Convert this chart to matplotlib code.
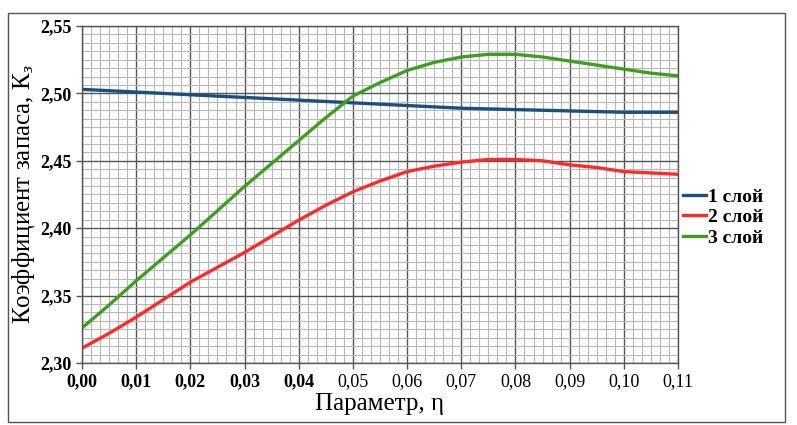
import matplotlib
matplotlib.use("Agg")
import matplotlib.pyplot as plt
from matplotlib.ticker import MultipleLocator, FixedLocator, FixedFormatter
from matplotlib.patches import Rectangle

plt.rcParams['font.family'] = ['Liberation Serif', 'DejaVu Serif']
plt.rcParams['mathtext.fontset'] = 'custom'
plt.rcParams['mathtext.rm'] = 'Liberation Serif'
plt.rcParams['mathtext.it'] = 'Liberation Serif:italic'

# ---- data ----
eta_blue = [0.00, 0.01, 0.02, 0.03, 0.04, 0.05, 0.06, 0.07, 0.08, 0.09, 0.10, 0.11]
k_blue = [2.503, 2.501, 2.499, 2.497, 2.495, 2.493, 2.491, 2.489, 2.488, 2.487, 2.486, 2.486]

eta_fine = [0.000, 0.005, 0.010, 0.015, 0.020, 0.025, 0.030, 0.035, 0.040, 0.045,
            0.050, 0.055, 0.060, 0.065, 0.070, 0.075, 0.080, 0.085, 0.090, 0.095,
            0.100, 0.105, 0.110]
k_red = [2.311, 2.322, 2.334, 2.347, 2.360, 2.371, 2.382, 2.394, 2.406, 2.417,
         2.427, 2.435, 2.442, 2.446, 2.449, 2.451, 2.451, 2.450, 2.447, 2.445,
         2.442, 2.441, 2.440]
k_green = [2.326, 2.343, 2.361, 2.378, 2.395, 2.413, 2.431, 2.448, 2.465, 2.482,
           2.498, 2.508, 2.517, 2.523, 2.527, 2.529, 2.529, 2.527, 2.524, 2.521,
           2.518, 2.515, 2.513]

series_labels = ["1 слой", "2 слой", "3 слой"]
x_ticks = [0.00, 0.01, 0.02, 0.03, 0.04, 0.05, 0.06, 0.07, 0.08, 0.09, 0.10, 0.11]
x_tick_labels = ["0,00", "0,01", "0,02", "0,03", "0,04", "0,05", "0,06", "0,07",
                 "0,08", "0,09", "0,10", "0,11"]
y_ticks = [2.30, 2.35, 2.40, 2.45, 2.50, 2.55]
y_tick_labels = ["2,30", "2,35", "2,40", "2,45", "2,50", "2,55"]

fig = plt.figure(figsize=(7.97, 4.25), dpi=100)
fig.patch.set_facecolor('white')

# outer frame
fig.patches.append(Rectangle((8/797, 1 - 422/425), (785 - 8)/797, (422 - 13)/425,
                             transform=fig.transFigure, fill=False,
                             edgecolor='#555555', linewidth=1.0, zorder=0))

ax = fig.add_axes([82/797, 1 - 363/425, (678 - 82)/797, (363 - 26)/425])
ax.set_xlim(0, 0.11)
ax.set_ylim(2.30, 2.55)

ax.xaxis.set_major_locator(FixedLocator(x_ticks))
ax.xaxis.set_major_formatter(FixedFormatter(x_tick_labels))
ax.yaxis.set_major_locator(FixedLocator(y_ticks))
ax.yaxis.set_major_formatter(FixedFormatter(y_tick_labels))
ax.xaxis.set_minor_locator(MultipleLocator(0.01 / 6))
ax.yaxis.set_minor_locator(MultipleLocator(0.05 / 8))

ax.grid(which='major', color='#555555', linewidth=1.0)
ax.grid(which='minor', color='#b8b8b8', linewidth=0.8)
ax.set_axisbelow(True)
ax.tick_params(which='minor', length=0)
ax.tick_params(which='major', length=4, width=1.0, color='#555555', labelsize=13)
for lbl in ax.get_xticklabels()[:5]:
    lbl.set_fontweight('bold')
for lbl in ax.get_yticklabels():
    lbl.set_fontweight('bold')
for s in ax.spines.values():
    s.set_color('#555555')
    s.set_linewidth(1.0)

l1, = ax.plot(eta_blue, k_blue, color='#1d4f7c', linewidth=2.4, label=series_labels[0])
l2, = ax.plot(eta_fine, k_red, color='#ff2b2b', linewidth=2.4, label=series_labels[1])
l3, = ax.plot(eta_fine, k_green, color='#3f9d22', linewidth=2.4, label=series_labels[2])

ax.set_xlabel("Параметр, η", fontsize=18, labelpad=2)
ax.set_ylabel("Коэффициент запаса, К$_з$", fontsize=18, labelpad=2)

leg = fig.legend(handles=[l1, l2, l3], loc='upper left',
                 bbox_to_anchor=(683/797, 1 - 188/425), frameon=False,
                 prop={'family': 'Liberation Serif', 'weight': 'bold', 'size': 14},
                 handlelength=1.2, handletextpad=0.1, labelspacing=0.15,
                 borderaxespad=0, borderpad=0)

fig.savefig("out.png", dpi=100)
